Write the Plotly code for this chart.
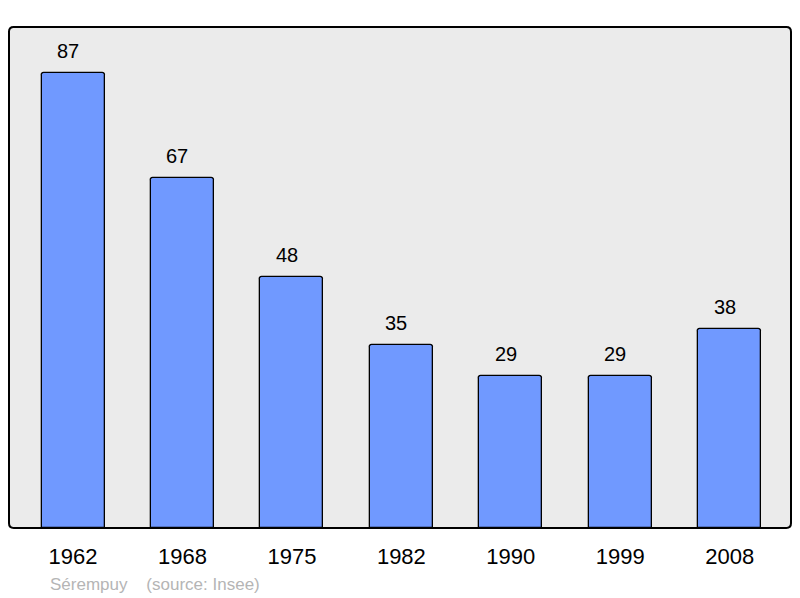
import plotly.graph_objects as go

years = ["1962", "1968", "1975", "1982", "1990", "1999", "2008"]
population = [87, 67, 48, 35, 29, 29, 38]
source_text = "Sérempuy    (source: Insee)"

xs = list(range(len(years)))
FONT = "Liberation Sans, Arial, sans-serif"

fig = go.Figure()
fig.add_trace(go.Bar(
    x=xs, y=population, width=0.576,
    marker=dict(color="#7099ff", line=dict(color="#000000", width=1.3), cornerradius=3),
    hoverinfo="skip",
))

for x, v in zip(xs, population):
    fig.add_annotation(x=x, y=v, text=str(v), showarrow=False, yanchor="bottom", yshift=9, xshift=-5,
                       font=dict(family=FONT, size=20, color="#000"))

fig.add_annotation(xref="paper", yref="paper", x=39/782, y=-0.112, xanchor="left", yanchor="middle",
                   text=source_text, showarrow=False,
                   font=dict(family=FONT, size=17, color="#b5b5b5"))

# rounded plot frame
r = 0.006
fig.add_shape(type="path", xref="paper", yref="paper",
              path=f"M {r},0 L {1-r},0 Q 1,0 1,{r*1.56} L 1,{1-r*1.56} Q 1,1 {1-r},1 L {r},1 Q 0,1 0,{1-r*1.56} L 0,{r*1.56} Q 0,0 {r},0 Z",
              line=dict(color="#000000", width=2), layer="above")

fig.update_layout(
    width=800, height=598,
    margin=dict(l=9, r=9, t=27, b=70),
    paper_bgcolor="#ffffff", plot_bgcolor="#ebebeb",
    showlegend=False,
    bargap=0,
    font=dict(family=FONT),
    xaxis=dict(range=[-0.585, 6.56], tickvals=xs, ticktext=years, showgrid=False, zeroline=False,
               ticks="outside", ticklen=9, tickcolor="rgba(0,0,0,0)",
               tickfont=dict(size=22, color="#000"), fixedrange=True),
    yaxis=dict(range=[0, 95.8], showgrid=False, zeroline=False, showticklabels=False, fixedrange=True),
)

fig.write_html("out.html", config={"displayModeBar": False},
               post_script="document.body.style.margin='0';document.body.style.overflow='hidden';")
